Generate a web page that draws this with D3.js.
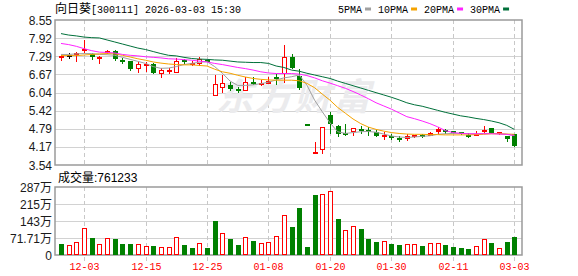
<!DOCTYPE html>
<html>
<head>
<meta charset="utf-8">
<script src="https://cdn.jsdelivr.net/npm/d3@7/dist/d3.min.js"></script>
<style>
  html, body { margin: 0; padding: 0; background: #fff; }
  svg { display: block; font-family: "Liberation Sans", Arial, "Noto Sans CJK SC", sans-serif; }
</style>
</head>
<body>
<svg id="chart" width="578" height="276"></svg>
<script>
// trading days (MM-DD), 60 sessions ending 2026-03-03
const dates = [
  '11-28','12-01','12-02','12-03','12-04','12-05','12-08','12-09','12-10','12-11',
  '12-12','12-15','12-16','12-17','12-18','12-19','12-22','12-23','12-24','12-25',
  '12-26','12-29','12-30','12-31','01-05','01-06','01-07','01-08','01-09','01-12',
  '01-13','01-14','01-15','01-16','01-19','01-20','01-21','01-22','01-23','01-26',
  '01-27','01-28','01-29','01-30','02-02','02-03','02-04','02-05','02-06','02-09',
  '02-10','02-11','02-12','02-13','02-24','02-25','02-26','02-27','03-02','03-03'
];

const open = [
  7.31,7.33,7.32,7.46,7.36,7.27,7.43,7.48,7.17,7.12,
  6.88,7.02,7.03,6.71,6.77,6.77,7.17,7.05,7.05,7.16,
  5.95,6.25,6.30,6.15,6.15,6.40,6.37,6.36,6.57,6.71,
  7.26,6.61,4.95,3.96,4.08,5.27,4.89,4.66,4.69,4.79,
  4.76,4.69,4.49,4.53,4.46,4.45,4.54,4.57,4.56,4.68,
  4.75,4.71,4.67,4.56,4.58,4.67,4.82,4.66,4.54,4.61
];
const high = [
  7.34,7.40,7.43,7.86,7.41,7.29,7.51,7.51,7.23,7.14,
  7.11,7.09,7.05,6.88,6.90,7.22,7.19,7.14,7.26,7.18,
  6.65,6.65,6.41,6.25,6.57,6.59,6.47,6.57,6.67,7.69,
  7.37,6.84,4.95,4.34,4.84,5.38,4.92,4.95,4.81,4.89,
  4.84,4.75,4.69,4.60,4.54,4.60,4.58,4.61,4.69,4.84,
  4.77,4.71,4.69,4.63,4.72,4.89,4.82,4.69,4.54,4.61
];
const low = [
  7.16,7.25,7.14,7.43,7.21,7.05,7.40,7.17,7.05,6.82,
  6.76,6.79,6.71,6.59,6.71,6.76,7.02,6.98,6.99,7.12,
  5.95,6.05,6.13,6.07,6.15,6.33,6.30,6.36,6.34,6.42,
  6.88,6.15,4.95,3.96,3.96,4.63,4.55,4.58,4.58,4.66,
  4.58,4.55,4.44,4.43,4.38,4.40,4.52,4.52,4.56,4.66,
  4.63,4.63,4.61,4.52,4.56,4.63,4.66,4.62,4.38,4.21
];
const close = [
  7.32,7.33,7.40,7.54,7.25,7.28,7.48,7.20,7.13,6.86,
  7.02,7.03,6.73,6.82,6.83,7.14,7.12,7.07,7.19,7.14,
  6.34,6.38,6.17,6.14,6.41,6.38,6.39,6.45,6.55,7.26,
  6.88,6.19,4.95,3.98,4.84,4.96,4.62,4.64,4.81,4.77,
  4.74,4.55,4.57,4.52,4.40,4.54,4.56,4.55,4.65,4.77,
  4.69,4.66,4.64,4.52,4.60,4.75,4.66,4.67,4.45,4.21
];
const prevClose = 7.35; // close of the session before the window

// moving averages
const ma5 = [
  7.36,7.36,7.38,7.39,7.39,7.36,7.35,7.33,7.26,7.19,
  7.12,7.05,6.94,6.88,6.89,6.94,7.01,7.05,7.09,7.11,
  6.94,6.71,6.44,6.29,6.29,6.31,6.35,6.40,6.48,6.55,
  6.59,6.65,6.30,5.78,5.38,5.00,4.69,4.63,4.66,4.69,
  4.70,4.67,4.61,4.54,4.51,4.49,4.51,4.53,4.55,4.60,
  4.62,4.63,4.64,4.62,4.61,4.63,4.63,4.62,4.60,4.56
];
const ma10 = [
  7.32,7.32,7.32,7.34,7.36,7.38,7.39,7.38,7.33,7.27,
  7.21,7.16,7.10,7.06,7.03,7.01,7.00,7.00,6.98,6.96,
  6.85,6.76,6.71,6.64,6.58,6.53,6.50,6.48,6.47,6.47,
  6.47,6.45,6.36,6.21,5.99,5.78,5.53,5.33,5.13,4.97,
  4.85,4.77,4.71,4.66,4.63,4.61,4.60,4.60,4.59,4.59,
  4.58,4.58,4.58,4.58,4.59,4.60,4.62,4.62,4.61,4.60
];
const ma20 = [
  7.74,7.70,7.64,7.56,7.49,7.44,7.43,7.41,7.36,7.33,
  7.31,7.28,7.26,7.24,7.21,7.20,7.18,7.16,7.13,7.10,
  7.05,7.01,6.96,6.91,6.87,6.82,6.76,6.72,6.70,6.70,
  6.70,6.68,6.63,6.55,6.45,6.37,6.28,6.19,6.08,5.96,
  5.83,5.69,5.58,5.47,5.34,5.21,5.14,5.06,4.97,4.86,
  4.73,4.66,4.63,4.62,4.62,4.62,4.62,4.61,4.60,4.56
];
const ma30 = [
  8.08,8.03,8.00,7.96,7.94,7.93,7.86,7.79,7.72,7.65,
  7.58,7.53,7.46,7.39,7.33,7.31,7.26,7.22,7.20,7.19,
  7.17,7.16,7.13,7.10,7.09,7.08,7.08,7.05,6.96,6.91,
  6.82,6.78,6.71,6.65,6.59,6.53,6.44,6.36,6.28,6.20,
  6.12,6.04,5.96,5.88,5.79,5.69,5.62,5.57,5.50,5.43,
  5.36,5.30,5.24,5.20,5.15,5.11,5.06,5.00,4.91,4.77
];

// volume, 万股
const volume = [
  46,41,54,113,72,45,70,67.5,46,46,
  45,36.6,38,32,32,75,42,30,49,30,
  143,91.5,67.5,42,75,59,49,55,79,167,
  118,198,34,253,257,269,152,105,121,110,
  67.5,55,59,46,42,45,45,38,49,49,
  42,34,30,25,37,66,51,30,55,76.1233
];

const priceTicks = [8.55, 7.92, 7.29, 6.67, 6.04, 5.42, 4.79, 4.17, 3.54];
const volTicks = [0, 71.71, 143.42, 215.13, 286.84];
const volTickLabels = ['0', '71.71万', '143万', '215万', '287万'];
const dateTicks = ['12-03', '12-15', '12-25', '01-08', '01-20', '01-30', '02-11', '03-03'];
const maNames = ['5PMA', '10PMA', '20PMA', '30PMA'];
const maColors = ['#a0a0a0', '#f5a300', '#ff22ff', '#00703a'];
const lastVolume = '761233';

const RED = '#ff0000', GREEN = '#008000', GRID = '#d2d2d2', FRAME = '#9a9a9a';
const left = 55, right = 522;
const mainTop = 20, mainBottom = 165, volTop = 187, volBottom = 255;

const svg = d3.select('#chart');

const x = d3.scalePoint().domain(dates).range([61, 514.4]);
const y = d3.scaleLinear().domain([3.54, 8.55]).range([mainBottom, mainTop]);
const yv = d3.scaleLinear().domain([0, 286.84]).range([volBottom, volTop]);
const px = d => Math.round(x(d));

// horizontal grid
svg.append('g').selectAll('line')
  .data(priceTicks.slice(1, -1))
  .enter().append('line')
  .attr('x1', left).attr('x2', right)
  .attr('y1', d => Math.round(y(d)) + 0.5).attr('y2', d => Math.round(y(d)) + 0.5)
  .attr('stroke', GRID);

svg.append('g').selectAll('line')
  .data(volTicks.slice(1, -1))
  .enter().append('line')
  .attr('x1', left).attr('x2', right)
  .attr('y1', d => Math.round(yv(d)) + 0.5).attr('y2', d => Math.round(yv(d)) + 0.5)
  .attr('stroke', GRID);

// vertical dashed lines at date ticks
const vg = svg.append('g').attr('stroke', '#c8c8c8').attr('stroke-dasharray', '4,3');
dateTicks.forEach(d => {
  vg.append('line').attr('x1', px(d) + 0.5).attr('x2', px(d) + 0.5).attr('y1', mainTop).attr('y2', mainBottom);
  vg.append('line').attr('x1', px(d) + 0.5).attr('x2', px(d) + 0.5).attr('y1', volTop).attr('y2', volBottom + 6);
});

// watermark
svg.append('text')
  .attr('x', 216).attr('y', 110)
  .attr('font-family', '"Noto Sans CJK SC", sans-serif')
  .attr('font-size', 37).attr('font-weight', 'bold').attr('font-style', 'italic')
  .attr('fill', '#ebebed')
  .attr('letter-spacing', 2)
  .text('东方财富');

// frames
[[mainTop, mainBottom], [volTop, volBottom]].forEach(([t, b]) => {
  svg.append('rect')
    .attr('x', left).attr('y', t).attr('width', right - left).attr('height', b - t)
    .attr('fill', 'none').attr('stroke', FRAME).attr('stroke-width', 1.5);
});

// candles
const idx = d3.range(dates.length);
const prevOf = i => (i === 0 ? prevClose : close[i - 1]);
const candleColor = i => {
  if (close[i] > open[i]) return RED;
  if (close[i] < open[i]) return GREEN;
  return close[i] < prevOf(i) ? GREEN : '#000';
};

const cg = svg.append('g').attr('shape-rendering', 'crispEdges');
idx.forEach(i => {
  const cx = px(dates[i]);
  const col = candleColor(i);
  cg.append('line')
    .attr('x1', cx + 0.5).attr('x2', cx + 0.5)
    .attr('y1', y(high[i])).attr('y2', y(low[i]) + 1)
    .attr('stroke', col);
  const top = y(Math.max(open[i], close[i]));
  const h = Math.abs(y(open[i]) - y(close[i]));
  if (close[i] > open[i] && h >= 3) {
    cg.append('rect')
      .attr('x', cx - 1.5).attr('y', Math.round(top) + 0.5)
      .attr('width', 4).attr('height', Math.round(h))
      .attr('fill', '#fff').attr('stroke', col);
  } else {
    cg.append('rect')
      .attr('x', cx - 2).attr('y', Math.round(top))
      .attr('width', 5).attr('height', Math.max(1.5, Math.round(h)))
      .attr('fill', col);
  }
});

// moving averages
const mas = [ma5, ma10, ma20, ma30];
const line = d3.line().x((d, i) => x(dates[i])).y(d => y(d));
mas.forEach((m, k) => {
  svg.append('path')
    .datum(m)
    .attr('d', line)
    .attr('fill', 'none')
    .attr('stroke', maColors[k])
    .attr('stroke-width', 1);
});

// volume bars
const vb = svg.append('g').attr('shape-rendering', 'crispEdges');
idx.forEach(i => {
  const cx = px(dates[i]);
  const up = close[i] >= prevOf(i);
  const top = Math.round(yv(volume[i]));
  if (up) {
    vb.append('rect')
      .attr('x', cx - 1.5).attr('y', top + 0.5)
      .attr('width', 4).attr('height', volBottom - top - 1)
      .attr('fill', '#fff').attr('stroke', RED);
  } else {
    vb.append('rect')
      .attr('x', cx - 2).attr('y', top)
      .attr('width', 5).attr('height', volBottom - top)
      .attr('fill', GREEN);
  }
});

// left axis labels
svg.append('g').selectAll('text')
  .data(priceTicks)
  .enter().append('text')
  .attr('x', 52).attr('y', d => y(d) + 4.5)
  .attr('text-anchor', 'end').attr('font-size', 12).attr('fill', '#1a1a1a')
  .text(d => d.toFixed(2));

svg.append('g').selectAll('text')
  .data(volTicks)
  .enter().append('text')
  .attr('x', 52).attr('y', (d, i) => yv(d) + 4.5)
  .attr('text-anchor', 'end').attr('font-size', 12).attr('fill', '#1a1a1a')
  .text((d, i) => volTickLabels[i]);

// date labels
svg.append('g').selectAll('text')
  .data(dateTicks)
  .enter().append('text')
  .attr('x', d => px(d) + 0.5).attr('y', 270)
  .attr('text-anchor', 'middle')
  .attr('font-family', '"Liberation Mono", monospace').attr('font-size', 10)
  .attr('fill', RED)
  .text(d => d);

// title
const title = svg.append('text').attr('x', 55).attr('y', 13).attr('fill', '#000');
title.append('tspan').attr('font-family', '"Noto Sans CJK SC", sans-serif').attr('font-size', 12).text('向日葵');
title.append('tspan').attr('font-family', '"Liberation Mono", monospace').attr('font-size', 10)
  .attr('xml:space', 'preserve').text('[300111] 2026-03-03 15:30');

// legend
let lx = 338;
maNames.forEach((n, k) => {
  const t = svg.append('text')
    .attr('x', lx).attr('y', 12.5)
    .attr('font-family', '"Liberation Mono", monospace').attr('font-size', 10)
    .attr('fill', '#000').text(n);
  const w = t.node().getComputedTextLength();
  svg.append('rect')
    .attr('x', lx + w + 3).attr('y', 7.5).attr('width', 6).attr('height', 3)
    .attr('fill', maColors[k]);
  lx += w + 3 + 6 + 7;
});

// volume caption
const cap = svg.append('text').attr('x', 58).attr('y', 182).attr('font-size', 12).attr('fill', '#000');
cap.append('tspan').attr('font-family', '"Noto Sans CJK SC", sans-serif').text('成交量');
cap.append('tspan').text(':' + lastVolume);
</script>
</body>
</html>
